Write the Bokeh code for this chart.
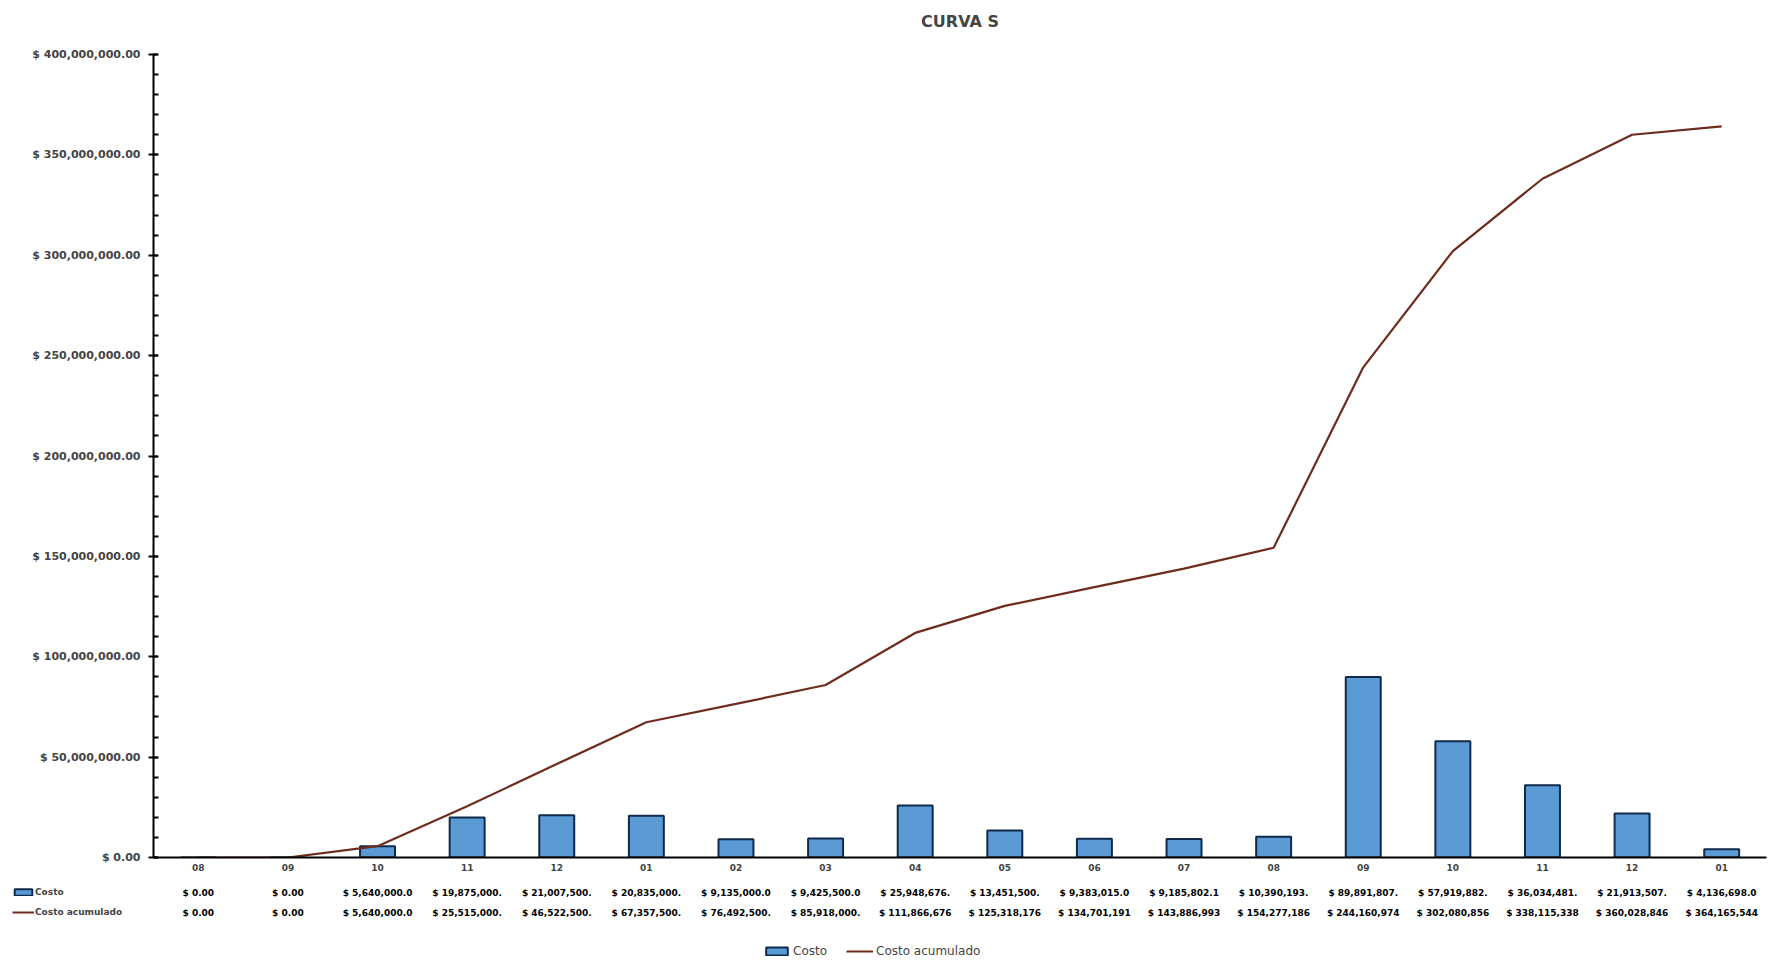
from bokeh.plotting import figure
from bokeh.layouts import column
from bokeh.models import Range1d, FixedTicker, Legend, LegendItem, ColumnDataSource
from bokeh.core.properties import value
from bokeh.embed import file_html
from bokeh.resources import INLINE

months = ["08", "09", "10", "11", "12", "01", "02", "03", "04", "05", "06",
          "07", "08", "09", "10", "11", "12", "01"]
costo = [0, 0, 5640000, 19875000, 21007500, 20835000, 9135000, 9425500,
         25948676, 13451500, 9383015, 9185802.1, 10390193, 89883788,
         57919882, 36034481, 21913507, 4136698]
acumulado = [0, 0, 5640000, 25515000, 46522500, 67357500, 76492500, 85918000,
             111866676, 125318176, 134701191, 143886993, 154277186, 244160974,
             302080856, 338115338, 360028846, 364165544]
costo_txt = ["$ 0.00", "$ 0.00", "$ 5,640,000.0", "$ 19,875,000.", "$ 21,007,500.",
             "$ 20,835,000.", "$ 9,135,000.0", "$ 9,425,500.0", "$ 25,948,676.",
             "$ 13,451,500.", "$ 9,383,015.0", "$ 9,185,802.1", "$ 10,390,193.",
             "$ 89,891,807.", "$ 57,919,882.", "$ 36,034,481.", "$ 21,913,507.",
             "$ 4,136,698.0"]
acum_txt = ["$ 0.00", "$ 0.00", "$ 5,640,000.0", "$ 25,515,000.", "$ 46,522,500.",
            "$ 67,357,500.", "$ 76,492,500.", "$ 85,918,000.", "$ 111,866,676",
            "$ 125,318,176", "$ 134,701,191", "$ 143,886,993", "$ 154,277,186",
            "$ 244,160,974", "$ 302,080,856", "$ 338,115,338", "$ 360,028,846",
            "$ 364,165,544"]
y_ticks = [0, 50e6, 100e6, 150e6, 200e6, 250e6, 300e6, 350e6, 400e6]

FONT = "DejaVu Sans"
BAR_FILL = "#5b9bd5"
BAR_LINE = "#0f2a4a"
LINE_COL = "#6e2c1c"

W = 1769
LEFT, RIGHT = 153, 3
FRAME_TOP, AXIS_TOP, AXIS_BOTTOM = 38, 54, 857
n = len(months)
xs = list(range(n))
y_max = y_ticks[-1]
y_end = y_max + (AXIS_TOP - FRAME_TOP) * y_max / (AXIS_BOTTOM - AXIS_TOP)
src = ColumnDataSource(dict(x=xs, costo=costo, acum=acumulado,
                            ctxt=costo_txt, atxt=acum_txt))

# ---------------- main chart ----------------
p = figure(width=W, height=880, x_range=Range1d(-0.5, n - 0.5),
           y_range=Range1d(0, y_end), output_backend="svg", toolbar_location=None,
           min_border_left=LEFT, min_border_right=RIGHT, min_border_top=FRAME_TOP,
           min_border_bottom=880 - AXIS_BOTTOM, title="CURVA S")
p.outline_line_color = None
p.grid.visible = False
p.title.align = "center"
p.title.text_font = FONT
p.title.text_font_size = "16px"
p.title.text_font_style = "bold"
p.title.standoff = 16

p.vbar(x="x", top="costo", width=0.39, source=src, fill_color=BAR_FILL,
       line_color=BAR_LINE, line_width=2)
p.line(x="x", y="acum", source=src, line_color=LINE_COL, line_width=2.2)

ya = p.yaxis[0]
ya.bounds = (0, y_max)
ya.ticker = FixedTicker(ticks=y_ticks, minor_ticks=[i * 10e6 for i in range(41)])
ya.major_label_overrides = {float(v): f"$ {v:,.2f}" for v in y_ticks}
ya.axis_line_width = 2
ya.axis_line_color = "black"
ya.major_tick_in = 4
ya.major_tick_out = 5
ya.major_tick_line_width = 2
ya.minor_tick_in = 5
ya.minor_tick_out = 0
ya.minor_tick_line_width = 2
ya.major_label_text_font = FONT
ya.major_label_text_font_size = "11px"
ya.major_label_text_font_style = "bold"
ya.major_label_standoff = 8

xa = p.xaxis[0]
xa.ticker = FixedTicker(ticks=xs)
xa.major_label_overrides = {float(i): m for i, m in zip(xs, months)}
xa.axis_line_width = 2
xa.axis_line_color = "black"
xa.major_tick_line_color = None
xa.major_tick_out = 0
xa.major_tick_in = 0
xa.minor_tick_line_color = None
xa.major_label_text_font = FONT
xa.major_label_text_font_size = "9px"
xa.major_label_text_font_style = "bold"
xa.major_label_standoff = 6

# ---------------- data table + legends ----------------
H2 = 83
unit = (W - LEFT - RIGHT) / n
independent = True
try:
    p.frame_align = False
except Exception:
    independent = False

if independent:
    t_xr = Range1d(-0.5 - LEFT / unit, n - 0.5 + RIGHT / unit)
    t_borders = dict(min_border=0)
    off = 0
else:
    t_xr = p.x_range
    t_borders = dict(min_border_left=LEFT, min_border_right=RIGHT,
                     min_border_top=0, min_border_bottom=0)
    off = LEFT

t = figure(width=W, height=H2, x_range=t_xr, y_range=Range1d(H2, 0),
           output_backend="svg", toolbar_location=None,
           x_axis_location=None, y_axis_location=None, **t_borders)
if independent:
    t.frame_align = False
t.outline_line_color = None
t.grid.visible = False

row_font = dict(text_font=value(FONT), text_font_size="9px", text_font_style="bold",
                text_align="center", text_baseline="middle", text_color="black")
t.text(x="x", y=12, text="ctxt", source=src, **row_font)
t.text(x="x", y=32, text="atxt", source=src, **row_font)

# hidden proxies (same data) used only for legend keys
kb = t.vbar(x="x", top="costo", source=src, width=0.39, fill_color=BAR_FILL,
            line_color=BAR_LINE, line_width=2, visible=False)
kl = t.line(x="x", y="acum", source=src, line_color=LINE_COL, line_width=2,
            visible=False)

row_legend = Legend(items=[LegendItem(label="Costo", renderers=[kb]),
                           LegendItem(label="Costo acumulado", renderers=[kl])],
                    orientation="vertical", location=(12 - off, 44),
                    border_line_color=None, background_fill_alpha=0,
                    inactive_fill_alpha=0,
                    glyph_height=8, glyph_width=22, label_height=14,
                    label_text_font=FONT, label_text_font_size="9px",
                    label_text_font_style="bold", label_standoff=1,
                    spacing=6, padding=0, margin=0)
t.add_layout(row_legend)

legend = Legend(items=[LegendItem(label="Costo", renderers=[kb]),
                       LegendItem(label="Costo acumulado", renderers=[kl])],
                orientation="horizontal", location=(763 - off, 5),
                border_line_color=None, background_fill_alpha=0,
                inactive_fill_alpha=0,
                glyph_height=10, glyph_width=27, label_height=14,
                label_text_font=FONT, label_text_font_size="12px",
                label_standoff=3, spacing=19, padding=0, margin=0)
t.add_layout(legend)

open("out.html", "w").write(file_html(column(p, t, spacing=0), INLINE))
